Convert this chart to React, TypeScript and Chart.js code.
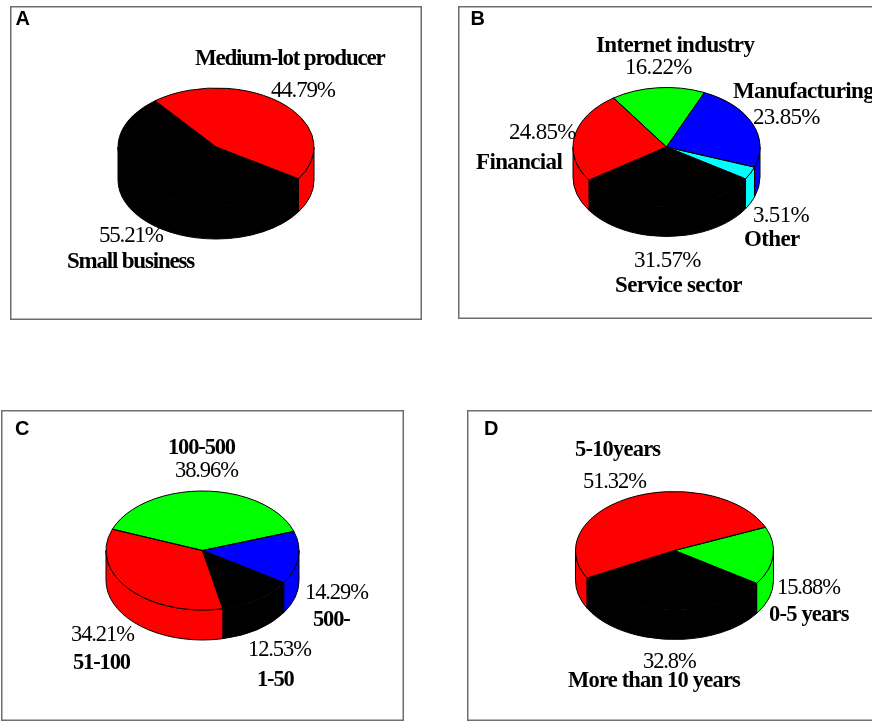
import React, { useEffect, useRef } from "react";
import { Chart, registerables } from "chart.js";

Chart.register(...registerables);

const RED = "#ff0000";
const GREEN = "#00ff00";
const BLUE = "#0000ff";
const CYAN = "#00ffff";
const BLACK = "#000000";

// Panel A: enterprise scale
const scaleNames = ["Medium-lot producer", "Small business"];
const scaleShares = [44.79, 55.21];
const scaleColors = [RED, BLACK];

// Panel B: industry
const industryNames = ["Internet industry", "Manufacturing", "Other", "Service sector", "Financial"];
const industryShares = [16.22, 23.85, 3.51, 31.57, 24.85];
const industryColors = [GREEN, BLUE, CYAN, BLACK, RED];

// Panel C: number of employees
const staffNames = ["100-500", "500-", "1-50", "51-100"];
const staffShares = [38.96, 14.29, 12.53, 34.21];
const staffColors = [GREEN, BLUE, BLACK, RED];

// Panel D: years in operation
const ageNames = ["5-10years", "0-5 years", "More than 10 years"];
const ageShares = [51.32, 15.88, 32.8];
const ageColors = [RED, GREEN, BLACK];

type Pt = [number, number];

interface PanelSpec {
  letter: string;
  letterPos: Pt;
  box: { left: number; top: number; right: number; bottom: number };
  center: Pt;
  rx: number;
  ry: number;
  depth: number;
  rotation: number;
  names: string[];
  shares: number[];
  colors: string[];
  namePos: Pt[];
  sharePos: Pt[];
  nameFont: string;
  nameSpacing: string;
  shareFont: string;
  shareSpacing: string;
}

const BOLD_LARGE = "bold 23px 'Liberation Serif'";
const BOLD_SMALL = "bold 22.5px 'Liberation Serif'";
const SHARE_LARGE = "23px 'Liberation Serif'";
const SHARE_SMALL = "22.5px 'Liberation Serif'";
const LETTER_FONT = "bold 20px 'Liberation Sans'";

const panels: PanelSpec[] = [
  {
    letter: "A",
    letterPos: [15.5, 25],
    box: { left: 10, top: 6, right: 422, bottom: 320 },
    center: [216, 147],
    rx: 98,
    ry: 59,
    depth: 33,
    rotation: -38.5,
    names: scaleNames,
    shares: scaleShares,
    colors: scaleColors,
    namePos: [[195, 65], [67, 268]],
    sharePos: [[271, 97], [99, 242]],
    nameFont: BOLD_LARGE,
    nameSpacing: "-1.2px",
    shareFont: SHARE_LARGE,
    shareSpacing: "-1.2px",
  },
  {
    letter: "B",
    letterPos: [470.5, 25],
    box: { left: 458, top: 6, right: 880, bottom: 319 },
    center: [666.5, 147],
    rx: 93.5,
    ry: 59.5,
    depth: 30,
    rotation: -34.5,
    names: industryNames,
    shares: industryShares,
    colors: industryColors,
    namePos: [[596, 52], [733, 98], [744, 246], [615, 292], [476, 169]],
    sharePos: [[625, 74], [753, 124], [753, 222], [634, 267], [509, 139]],
    nameFont: BOLD_LARGE,
    nameSpacing: "-0.65px",
    shareFont: SHARE_LARGE,
    shareSpacing: "-0.7px",
  },
  {
    letter: "C",
    letterPos: [15, 435],
    box: { left: 1, top: 410, right: 404, bottom: 721 },
    center: [202.5, 550.5],
    rx: 96.5,
    ry: 59.5,
    depth: 30,
    rotation: -69,
    names: staffNames,
    shares: staffShares,
    colors: staffColors,
    namePos: [[168, 454], [313, 626], [257, 686], [73, 669]],
    sharePos: [[175, 477], [305, 599], [248, 656], [71, 641]],
    nameFont: BOLD_SMALL,
    nameSpacing: "-1.15px",
    shareFont: SHARE_SMALL,
    shareSpacing: "-1.1px",
  },
  {
    letter: "D",
    letterPos: [484, 435],
    box: { left: 467, top: 410, right: 880, bottom: 721 },
    center: [674.5, 550.5],
    rx: 99,
    ry: 59,
    depth: 30,
    rotation: -118,
    names: ageNames,
    shares: ageShares,
    colors: ageColors,
    namePos: [[575, 456], [769, 621], [568, 687]],
    sharePos: [[583, 488], [777, 594], [643, 668]],
    nameFont: BOLD_SMALL,
    nameSpacing: "-0.8px",
    shareFont: SHARE_SMALL,
    shareSpacing: "-1.1px",
  },
];

// Tilts the library's arcs into an ellipse, adds the cylinder wall beneath
// them, outlines every slice and writes the category and share labels.
const tiltedPie = {
  id: "tiltedPie",
  beforeDatasetsDraw(chart: any, _args: any, opts: any) {
    const spec: PanelSpec = opts.spec;
    const ctx: CanvasRenderingContext2D = chart.ctx;
    const arcs = chart.getDatasetMeta(0).data;
    const { x, y, outerRadius } = arcs[0].getProps(["x", "y", "outerRadius"], true);
    const ry = outerRadius * (spec.ry / spec.rx);

    ctx.save();
    ctx.strokeStyle = "#000";
    ctx.lineWidth = 1;
    ctx.lineJoin = "round";
    arcs.forEach((arc: any, i: number) => {
      const { startAngle, endAngle } = arc.getProps(["startAngle", "endAngle"], true);
      for (let k = -1; k <= 1; k++) {
        const a = Math.max(startAngle, 2 * Math.PI * k);
        const b = Math.min(endAngle, Math.PI + 2 * Math.PI * k);
        if (a >= b) continue;
        ctx.beginPath();
        ctx.ellipse(x, y, outerRadius, ry, 0, a, b);
        ctx.lineTo(x + outerRadius * Math.cos(b), y + ry * Math.sin(b) + spec.depth);
        ctx.ellipse(x, y + spec.depth, outerRadius, ry, 0, b, a, true);
        ctx.closePath();
        ctx.fillStyle = spec.colors[i];
        ctx.fill();
        ctx.stroke();
      }
    });
    ctx.restore();

    ctx.save();
    ctx.translate(x, y);
    ctx.scale(1, spec.ry / spec.rx);
    ctx.translate(-x, -y);
  },
  afterDatasetsDraw(chart: any, _args: any, opts: any) {
    const spec: PanelSpec = opts.spec;
    const ctx: CanvasRenderingContext2D = chart.ctx;
    ctx.restore();

    const arcs = chart.getDatasetMeta(0).data;
    ctx.save();
    ctx.strokeStyle = "#000";
    ctx.lineWidth = 1;
    ctx.lineJoin = "round";
    arcs.forEach((arc: any) => {
      const { x, y, outerRadius, startAngle, endAngle } = arc.getProps(
        ["x", "y", "outerRadius", "startAngle", "endAngle"],
        true
      );
      const ry = outerRadius * (spec.ry / spec.rx);
      ctx.beginPath();
      ctx.moveTo(x, y);
      ctx.ellipse(x, y, outerRadius, ry, 0, startAngle, endAngle);
      ctx.closePath();
      ctx.stroke();
    });
    ctx.restore();

    const { left, top } = spec.box;
    ctx.save();
    ctx.fillStyle = "#000";
    ctx.textBaseline = "alphabetic";
    ctx.textAlign = "left";
    ctx.font = LETTER_FONT;
    ctx.fillText(spec.letter, spec.letterPos[0] - left, spec.letterPos[1] - top);
    ctx.font = spec.nameFont;
    (ctx as any).letterSpacing = spec.nameSpacing;
    spec.names.forEach((name, i) => {
      ctx.fillText(name, spec.namePos[i][0] - left, spec.namePos[i][1] - top);
    });
    ctx.font = spec.shareFont;
    (ctx as any).letterSpacing = spec.shareSpacing;
    spec.shares.forEach((share, i) => {
      ctx.fillText(`${share}%`, spec.sharePos[i][0] - left, spec.sharePos[i][1] - top);
    });
    ctx.restore();
  },
};

function TiltedPiePanel({ spec }: { spec: PanelSpec }) {
  const ref = useRef<HTMLCanvasElement>(null);
  const { left, top, right, bottom } = spec.box;
  const width = right - left;
  const height = bottom - top;

  useEffect(() => {
    const [cx, cy] = spec.center;
    const chart = new Chart(ref.current!, {
      type: "pie",
      data: {
        labels: spec.names,
        datasets: [
          {
            data: spec.shares,
            backgroundColor: spec.colors,
            borderWidth: 0,
            hoverOffset: 0,
          },
        ],
      },
      options: {
        animation: false,
        responsive: false,
        rotation: spec.rotation,
        layout: {
          padding: {
            left: cx - spec.rx - left,
            right: right - cx - spec.rx,
            top: cy - spec.rx - top,
            bottom: bottom - cy - spec.rx,
          },
        },
        plugins: {
          legend: { display: false },
          tooltip: { enabled: false },
          tiltedPie: { spec },
        },
      } as any,
      plugins: [tiltedPie],
    });
    return () => chart.destroy();
  }, [spec]);

  return (
    <div
      style={{
        position: "absolute",
        left,
        top,
        width,
        height,
        boxShadow: "inset 0 0 0 1.5px #6e6e6e",
      }}
    >
      <canvas ref={ref} width={width} height={height} style={{ display: "block" }} />
    </div>
  );
}

export default function App() {
  return (
    <div
      style={{
        position: "absolute",
        left: 0,
        top: 0,
        width: 872,
        height: 721,
        overflow: "hidden",
        background: "#fff",
      }}
    >
      {panels.map((spec) => (
        <TiltedPiePanel key={spec.letter} spec={spec} />
      ))}
    </div>
  );
}
